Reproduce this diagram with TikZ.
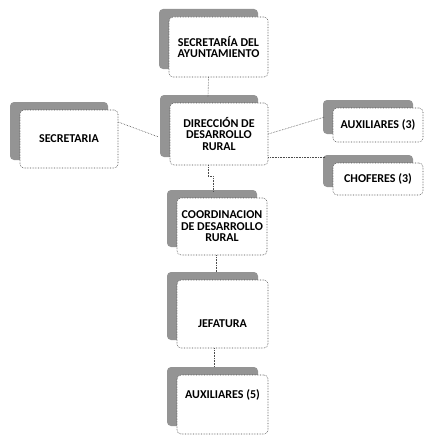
\documentclass[tikz,border=0pt]{standalone}
\usepackage{fontspec}
\setmainfont{Carlito}
\usetikzlibrary{shadows}

\begin{document}
\begin{tikzpicture}[x=1pt, y=-1pt,
    unidad/.style={draw=black!70, densely dotted, semithick, fill=white, rounded corners=4pt,
        align=center, inner sep=0pt,
        font=\fontsize{12}{11.5}\selectfont\bfseries,
        drop shadow={shadow xshift=-10pt, shadow yshift=8pt,
            fill=black!42, opacity=1}},
    enlace/.style={draw=black!70, densely dotted, semithick}]
    \useasboundingbox (0,0) rectangle (425,436);

    % cajas
    \node [unidad, minimum width=99, minimum height=60] (ayto) at (218.5,47)
        {SECRETARÍA DEL\\AYUNTAMIENTO};
    \node [unidad, minimum width=98, minimum height=62] (direccion) at (219,134)
        {DIRECCIÓN DE\\DESARROLLO\\RURAL};
    \node [unidad, minimum width=98, minimum height=58] (secretaria) at (69,139)
        {SECRETARIA};
    \node [unidad, minimum width=90, minimum height=34] (aux3) at (378,125)
        {AUXILIARES (3)};
    \node [unidad, minimum width=90, minimum height=32] (choferes) at (378,179)
        {CHOFERES (3)};
    \node [unidad, minimum width=90, minimum height=57] (coord) at (222,226.5)
        {COORDINACION\\DE DESARROLLO\\RURAL};
    \node [unidad, minimum width=91, minimum height=68, text height=28pt] (jefatura) at (222.5,314)
        {JEFATURA};
    \node [unidad, minimum width=91, minimum height=59, text depth=20pt] (aux5) at (222.5,404.5)
        {AUXILIARES (5)};

    % enlaces
    \draw [enlace] ([xshift=-10pt]ayto.south) -- ([xshift=-11pt, yshift=6pt]direccion.north);
    \draw [enlace] ([yshift=17pt]secretaria.east) -- ([xshift=-11pt, yshift=-3pt]direccion.west);
    \draw [enlace] (direccion.east) -- ([xshift=-8pt, yshift=8pt]aux3.west);
    \draw [enlace] ([yshift=-23pt]direccion.east) -- ([xshift=-8pt, yshift=22pt]choferes.west);
    \draw [enlace] ([xshift=-11pt]direccion.south) -- ++(0,11)
        -| ([xshift=-9pt, yshift=6pt]coord.north);
    \draw [enlace] ([xshift=-6pt]coord.south) -- ([xshift=-6.5pt, yshift=8pt]jefatura.north);
    \draw [enlace] ([xshift=-8pt]jefatura.south) -- ([xshift=-8pt, yshift=8pt]aux5.north);
\end{tikzpicture}
\end{document}
